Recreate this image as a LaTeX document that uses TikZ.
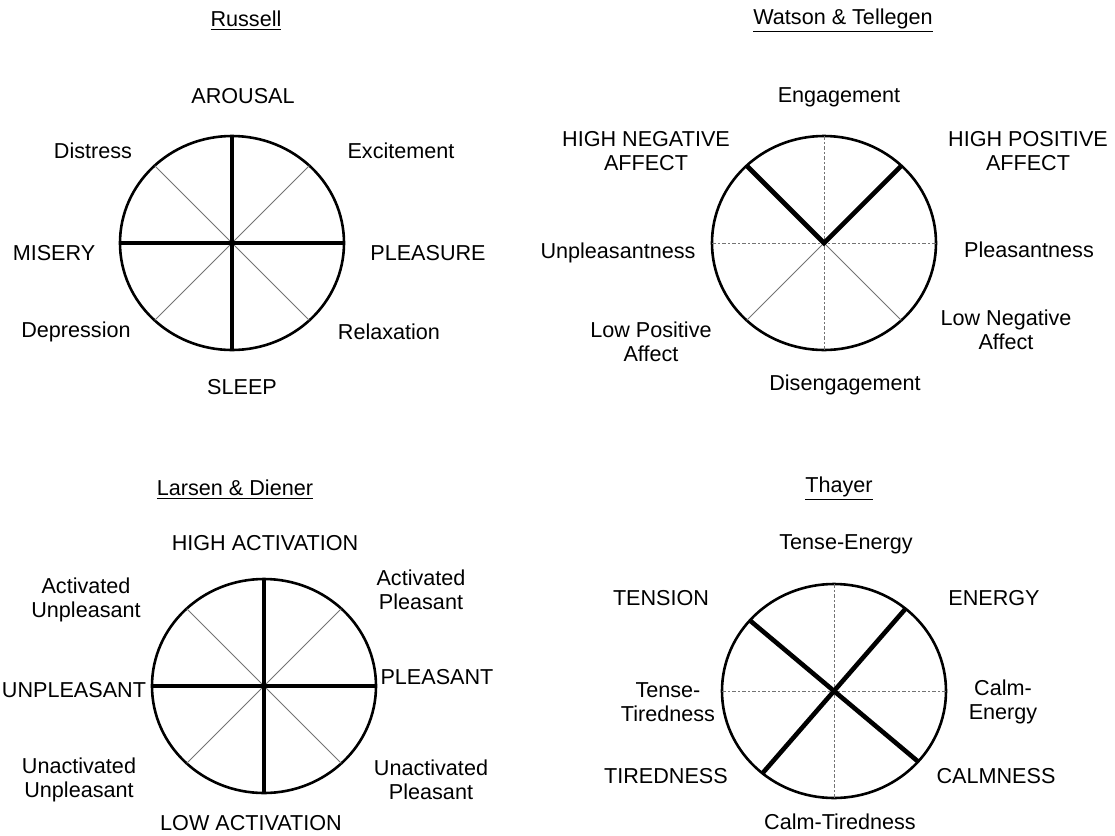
\documentclass[tikz,border=0pt]{standalone}
\usepackage{fontspec}
\setmainfont{Liberation Sans}
\usepackage{tikz}
\usetikzlibrary{shapes.geometric}

\begin{document}
\begin{tikzpicture}[x=0.5pt,y=-0.5pt,
 wheel/.style={ellipse,draw,line width=1.3pt,minimum width=112pt,minimum height=107pt,inner sep=0pt,outer sep=0pt},
 axis/.style={line width=2.3pt},
 spoke/.style={line width=0.45pt,black!55},
 dotaxis/.style={line width=0.5pt,black!55,dash pattern=on 2pt off 1.2pt on 0.6pt off 1.2pt},
 lbl/.style={font=\fontsize{10.8}{12}\selectfont,align=center,inner sep=0pt}]
\useasboundingbox (0,0) rectangle (1115,836);

% Russell
\node[lbl] (trussell) at (246,21) {\underline{Russell}};
\node[wheel] (rs) at (232,243) {};
\draw[spoke] (rs.45) -- (rs.225);
\draw[spoke] (rs.135) -- (rs.315);
\draw[axis] (rs.north) -- (rs.south);
\draw[axis] (rs.west) -- (rs.east);
\node[lbl] (arousal) at (243,96) {AROUSAL};
\node[lbl] (distress) at (93,151) {Distress};
\node[lbl] (excite) at (401,151) {Excitement};
\node[lbl] (misery) at (54,253) {MISERY};
\node[lbl] (pleasure) at (428,253) {PLEASURE};
\node[lbl] (depress) at (76,332) {Depression};
\node[lbl] (relax) at (389,332) {Relaxation};
\node[lbl] (sleep) at (242,387) {SLEEP};

% Watson & Tellegen
\node[lbl] (twatson) at (843,21) {\underline{Watson \& Tellegen}};
\node[wheel] (rw) at (824,243) {};
\draw[dotaxis] (rw.north) -- (rw.south);
\draw[dotaxis] (rw.west) -- (rw.east);
\draw[spoke] (rw.center) -- (rw.225);
\draw[spoke] (rw.center) -- (rw.315);
\draw[axis,line join=miter] (rw.135) -- (rw.center) -- (rw.45);
\node[lbl] (engage) at (839,97) {Engagement};
\node[lbl] (hineg) at (646,151) {HIGH NEGATIVE\\AFFECT};
\node[lbl] (hipos) at (1028,151) {HIGH POSITIVE\\AFFECT};
\node[lbl] (unpl) at (618,253) {Unpleasantness};
\node[lbl] (pleas) at (1029,250) {Pleasantness};
\node[lbl] (lopos) at (651,342) {Low Positive\\Affect};
\node[lbl] (loneg) at (1006,330) {Low Negative\\Affect};
\node[lbl] (diseng) at (845,385) {Disengagement};

% Larsen & Diener
\node[lbl] (tlarsen) at (235,490) {\underline{Larsen \& Diener}};
\node[wheel] (rl) at (264,686) {};
\draw[spoke] (rl.45) -- (rl.225);
\draw[spoke] (rl.135) -- (rl.315);
\draw[axis] (rl.north) -- (rl.south);
\draw[axis] (rl.west) -- (rl.east);
\node[lbl] (hiact) at (265,543) {HIGH ACTIVATION};
\node[lbl] (actunpl) at (86,600) {Activated\\Unpleasant};
\node[lbl] (actpl) at (421,590) {Activated\\Pleasant};
\node[lbl] (unpleasant) at (74,690) {UNPLEASANT};
\node[lbl] (pleasant) at (437,677) {PLEASANT};
\node[lbl] (unactunpl) at (79,780) {Unactivated\\Unpleasant};
\node[lbl] (unactpl) at (431,780) {Unactivated\\Pleasant};
\node[lbl] (loact) at (251,823) {LOW ACTIVATION};

% Thayer
\node[lbl] (tthayer) at (839,489) {\underline{Thayer}};
\node[wheel] (rt) at (834,691) {};
\draw[dotaxis] (rt.north) -- (rt.south);
\draw[dotaxis] (rt.west) -- (rt.east);
\draw[axis] (rt.140) -- (rt.-40);
\draw[axis] (rt.49) -- (rt.229);
\node[lbl] (tenseen) at (846,544) {Tense-Energy};
\node[lbl] (tension) at (661,598) {TENSION};
\node[lbl] (energy) at (994,598) {ENERGY};
\node[lbl] (tensetired) at (668,702) {Tense-\\Tiredness};
\node[lbl] (calmen) at (1003,702) {Calm-\\Energy};
\node[lbl] (tiredness) at (666,776) {TIREDNESS};
\node[lbl] (calmness) at (996,776) {CALMNESS};
\node[lbl] (calmtired) at (840,822) {Calm-Tiredness};
\end{tikzpicture}
\end{document}
